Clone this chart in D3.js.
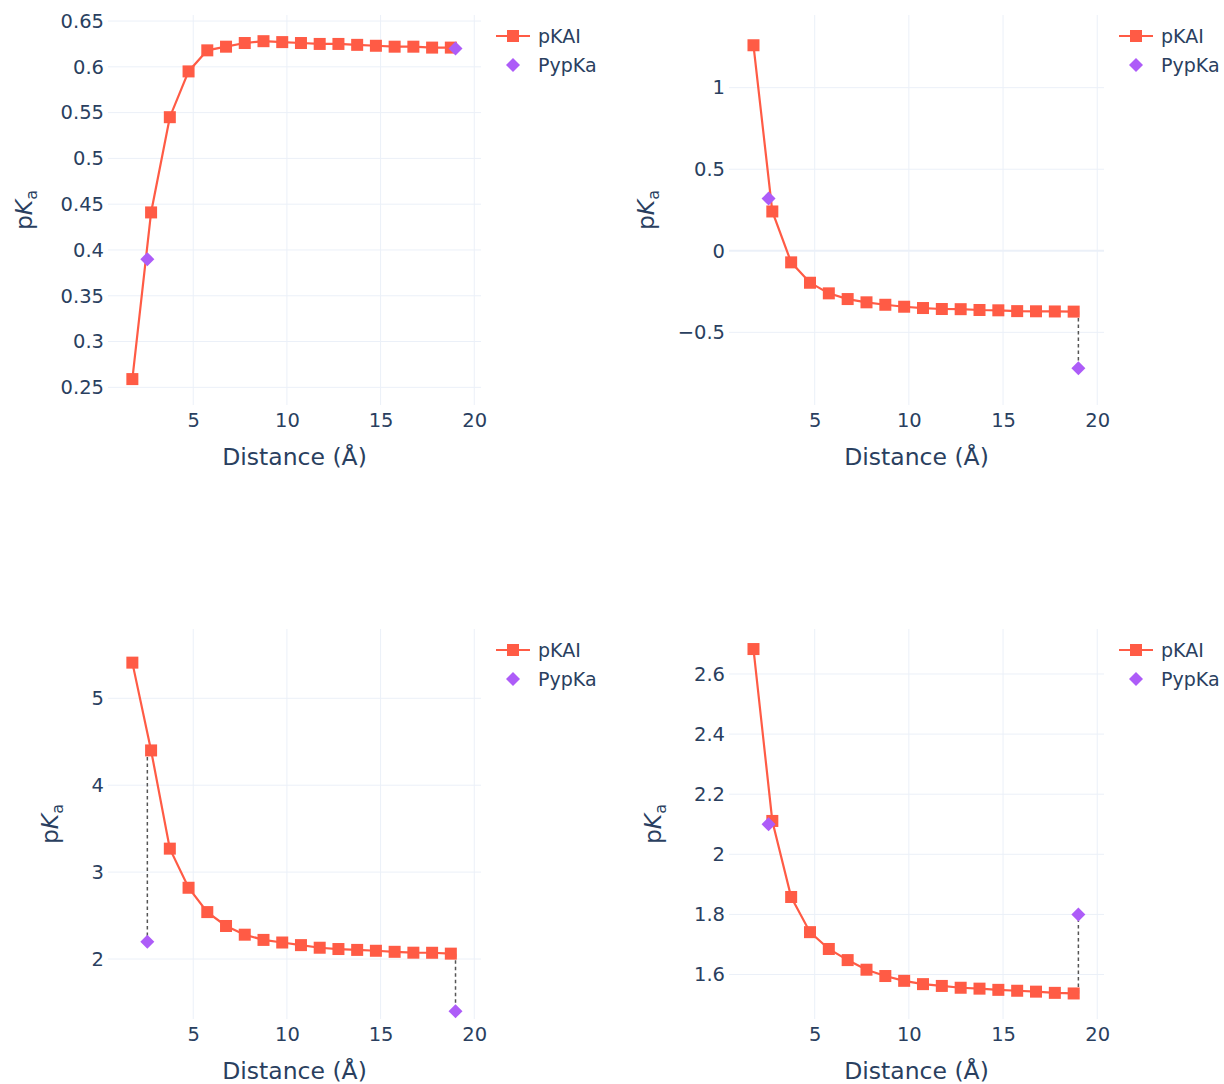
<!DOCTYPE html>
<html><head><meta charset="utf-8">
<script src="https://cdn.jsdelivr.net/npm/d3@7"></script>
<style>
body{margin:0;background:#fff;}
svg{display:block;font-family:"DejaVu Sans",Verdana,sans-serif;}
</style></head>
<body><svg id="c" width="1224" height="1084"></svg>
<script>
// ---- data ----
const distances = [1.75,2.75,3.75,4.75,5.75,6.75,7.75,8.75,9.75,10.75,11.75,12.75,13.75,14.75,15.75,16.75,17.75,18.75];
const pypkaX = [2.55, 19.0];

const pkai1 = [0.259,0.441,0.545,0.595,0.618,0.622,0.626,0.628,0.627,0.626,0.625,0.625,0.624,0.623,0.622,0.622,0.621,0.621];
const pypka1 = [0.39, 0.62];
const pkai2 = [1.26,0.241,-0.071,-0.196,-0.261,-0.296,-0.316,-0.331,-0.343,-0.351,-0.357,-0.358,-0.363,-0.365,-0.370,-0.371,-0.372,-0.373];
const pypka2 = [0.32, -0.72];
const pkai3 = [5.41,4.40,3.27,2.82,2.54,2.38,2.28,2.22,2.19,2.16,2.13,2.115,2.105,2.095,2.083,2.073,2.072,2.062];
const pypka3 = [2.2, 1.4];
const pkai4 = [2.683,2.111,1.858,1.741,1.685,1.648,1.616,1.595,1.579,1.568,1.562,1.556,1.553,1.549,1.546,1.543,1.539,1.537];
const pypka4 = [2.10, 1.80];

const xTicks = [5,10,15,20];
const yTicks1 = [0.25,0.3,0.35,0.4,0.45,0.5,0.55,0.6,0.65];
const yTicks2 = [-0.5,0,0.5,1];
const yTicks3 = [2,3,4,5];
const yTicks4 = [1.6,1.8,2,2.2,2.4,2.6];
const seriesNames = ["pKAI","PypKa"];

// ---- config ----
const textColor = "#2a3f5f", gridColor = "#ebf0f8";
const redColor = "#ff5b45", purpleColor = "#ad5cf8";
const panels = [
  {pk:pkai1, py:pypka1, ticks:yTicks1, yDom:[0.2307,0.6566], x:108, y:15, w:373, tx:-76},
  {pk:pkai2, py:pypka2, ticks:yTicks2, yDom:[-0.9455,1.4455], x:729, y:15, w:375, tx:-75},
  {pk:pkai3, py:pypka3, ticks:yTicks3, yDom:[1.310,5.797], x:108, y:629, w:373, tx:-50},
  {pk:pkai4, py:pypka4, ticks:yTicks4, yDom:[1.452,2.7497], x:729, y:629, w:375, tx:-68}
];
const H = 390, xDom = [0.45, 20.36];
const tickFont = "19.5px", titleFont = "23.5px", legendFont = "19px";

const svg = d3.select("#c");

const fmt = v => {
  let s = d3.format("~g")(+v.toFixed(4));
  return s.replace("-", "\u2212");
};

panels.forEach(p => {
  const W = p.w;
  const g = svg.append("g").attr("transform", `translate(${p.x},${p.y})`);
  const xs = d3.scaleLinear().domain(xDom).range([0, W]);
  const ys = d3.scaleLinear().domain(p.yDom).range([H, 0]);

  // grid
  g.append("g").selectAll("line").data(xTicks).join("line")
    .attr("x1", d => xs(d)).attr("x2", d => xs(d)).attr("y1", 0).attr("y2", H)
    .attr("stroke", gridColor).attr("stroke-width", 1);
  g.append("g").selectAll("line").data(p.ticks).join("line")
    .attr("x1", 0).attr("x2", W).attr("y1", d => ys(d)).attr("y2", d => ys(d))
    .attr("stroke", gridColor).attr("stroke-width", d => d === 0 ? 2 : 1);

  // axes (labels only)
  const xa = g.append("g").attr("transform", `translate(0,${H})`)
    .call(d3.axisBottom(xs).tickValues(xTicks).tickSize(0).tickPadding(8).tickFormat(fmt));
  const ya = g.append("g")
    .call(d3.axisLeft(ys).tickValues(p.ticks).tickSize(0).tickPadding(4).tickFormat(fmt));
  [xa, ya].forEach(a => {
    a.select(".domain").remove();
    a.selectAll("text").attr("fill", textColor).style("font-size", tickFont)
      .style("font-family", '"DejaVu Sans",Verdana,sans-serif');
  });

  // axis titles
  g.append("text").attr("x", W/2).attr("y", H + 60).attr("text-anchor", "middle")
    .attr("fill", textColor).style("font-size", titleFont).text("Distance (Å)");
  const yt = g.append("text").attr("text-anchor", "middle")
    .attr("transform", `translate(${p.tx},${H/2}) rotate(-90)`)
    .attr("fill", textColor).style("font-size", titleFont);
  yt.append("tspan").text("p");
  yt.append("tspan").style("font-style", "italic").text("K");
  yt.append("tspan").attr("dy", 5).style("font-size", "16px").text("a");

  // dashed connectors between PypKa and nearest pKAI value
  const conn = pypkaX.map((x, i) => {
    let j = d3.minIndex(distances, d => Math.abs(d - x));
    return {x, y1: p.pk[j], y2: p.py[i]};
  }).filter(c => Math.abs(c.y1 - c.y2) > 0.2);
  g.append("g").selectAll("line").data(conn).join("line")
    .attr("x1", d => xs(d.x)).attr("x2", d => xs(d.x))
    .attr("y1", d => ys(d.y1)).attr("y2", d => ys(d.y2))
    .attr("stroke", "#555").attr("stroke-width", 1.5).attr("stroke-dasharray", "3.5,3");

  // pKAI line + squares
  const line = d3.line().x((d, i) => xs(distances[i])).y(d => ys(d));
  g.append("path").datum(p.pk).attr("d", line).attr("fill", "none")
    .attr("stroke", redColor).attr("stroke-width", 2.2);
  g.append("g").selectAll("rect").data(p.pk).join("rect")
    .attr("x", (d, i) => xs(distances[i]) - 6).attr("y", d => ys(d) - 6)
    .attr("width", 12).attr("height", 12).attr("fill", redColor);

  // PypKa diamonds
  const dia = d3.symbol().type(d3.symbolDiamond2).size(125);
  g.append("g").selectAll("path").data(p.py).join("path")
    .attr("d", dia)
    .attr("transform", (d, i) => `translate(${xs(pypkaX[i])},${ys(d)})`)
    .attr("fill", purpleColor);

  // legend
  const lg = g.append("g").attr("transform", `translate(${W + 15},21)`);
  lg.append("line").attr("x1", 0).attr("x2", 34).attr("y1", 0).attr("y2", 0)
    .attr("stroke", redColor).attr("stroke-width", 2.2);
  lg.append("rect").attr("x", 11).attr("y", -6).attr("width", 12).attr("height", 12).attr("fill", redColor);
  lg.append("path").attr("d", dia).attr("transform", "translate(17,29)").attr("fill", purpleColor);
  lg.selectAll("text.lt").data(seriesNames).join("text").attr("class", "lt")
    .attr("x", 42).attr("y", (d, i) => i * 29 + 7)
    .attr("fill", textColor).style("font-size", legendFont).text(d => d);
});
</script></body></html>
